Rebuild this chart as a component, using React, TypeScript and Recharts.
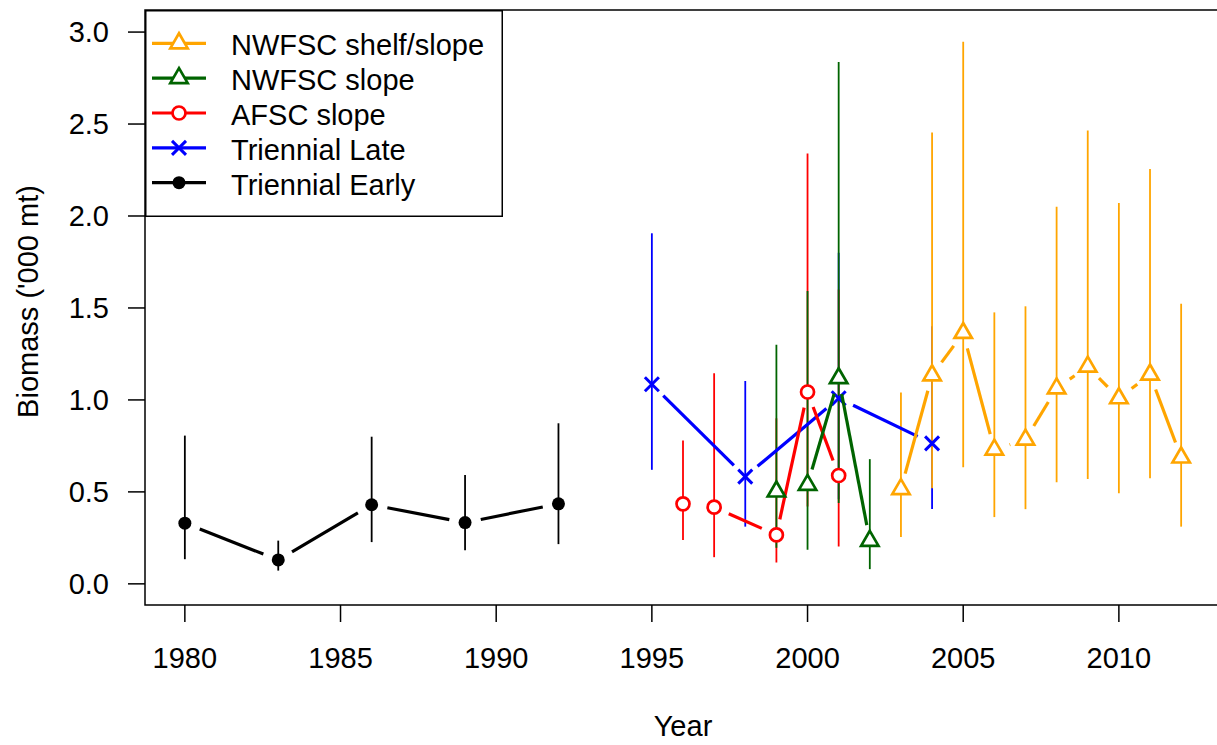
import { ComposedChart, Line, XAxis, YAxis, ErrorBar, ReferenceArea, Legend, Label } from 'recharts'

const earlyYears = [1980, 1983, 1986, 1989, 1992]
const earlyBiomass = [0.33, 0.13, 0.43, 0.333, 0.435]
const earlyLower = [0.134, 0.072, 0.227, 0.183, 0.216]
const earlyUpper = [0.806, 0.235, 0.8, 0.592, 0.873]

const lateYears = [1995, 1998, 2001, 2004]
const lateBiomass = [1.085, 0.583, 1.009, 0.764]
const lateLower = [0.62, 0.311, 0.46, 0.407]
const lateUpper = [1.906, 1.103, 1.8, 1.4]

const afscYears = [1996, 1997, 1999, 2000, 2001]
const afscBiomass = [0.435, 0.417, 0.266, 1.043, 0.589]
const afscLower = [0.239, 0.145, 0.116, 0.42, 0.203]
const afscUpper = [0.779, 1.145, 0.9, 2.34, 1.6]

const slopeYears = [1999, 2000, 2001, 2002]
const slopeBiomass = [0.502, 0.538, 1.118, 0.234]
const slopeLower = [0.196, 0.185, 0.44, 0.08]
const slopeUpper = [1.3, 1.592, 2.837, 0.678]

const shelfYears = [2003, 2004, 2005, 2006, 2007, 2008, 2009, 2010, 2011, 2012]
const shelfBiomass = [0.515, 1.134, 1.364, 0.73, 0.784, 1.063, 1.181, 1.009, 1.138, 0.687]
const shelfLower = [0.255, 0.52, 0.634, 0.363, 0.406, 0.552, 0.57, 0.492, 0.574, 0.311]
const shelfUpper = [1.04, 2.454, 2.948, 1.476, 1.509, 2.05, 2.465, 2.07, 2.256, 1.523]

const xTicks = [1980, 1985, 1990, 1995, 2000, 2005, 2010]
const yTicks = [0, 0.5, 1, 1.5, 2, 2.5, 3]
const xDomain = [1978.72, 2013.28]
const yDomain = [-0.115, 3.12]

const FONT = '"Liberation Sans", Arial, sans-serif'
const FS = 29
const GAP = 16

type Shape = 'dot' | 'cross' | 'circle' | 'triangle'

const build = (years: number[], vals: number[], lo: number[], hi: number[]) =>
  years.map((year, i) => ({ year, value: vals[i], err: [vals[i] - lo[i], hi[i] - vals[i]] }))

const series = [
  { name: 'Triennial Early', color: '#000000', shape: 'dot' as Shape, data: build(earlyYears, earlyBiomass, earlyLower, earlyUpper) },
  { name: 'Triennial Late', color: '#0000FF', shape: 'cross' as Shape, data: build(lateYears, lateBiomass, lateLower, lateUpper) },
  { name: 'AFSC slope', color: '#FF0000', shape: 'circle' as Shape, data: build(afscYears, afscBiomass, afscLower, afscUpper) },
  { name: 'NWFSC slope', color: '#006400', shape: 'triangle' as Shape, data: build(slopeYears, slopeBiomass, slopeLower, slopeUpper) },
  { name: 'NWFSC shelf/slope', color: '#FFA500', shape: 'triangle' as Shape, data: build(shelfYears, shelfBiomass, shelfLower, shelfUpper) },
]

function Marker({ shape, color, cx, cy }: { shape: Shape; color: string; cx: number; cy: number }) {
  if (shape === 'dot') return <circle cx={cx} cy={cy} r={6.5} fill={color} />
  if (shape === 'circle') return <circle cx={cx} cy={cy} r={6.5} fill="#fff" stroke={color} strokeWidth={2.7} />
  if (shape === 'cross')
    return (
      <g stroke={color} strokeWidth={3}>
        <line x1={cx - 7} y1={cy - 7} x2={cx + 7} y2={cy + 7} />
        <line x1={cx - 7} y1={cy + 7} x2={cx + 7} y2={cy - 7} />
      </g>
    )
  return (
    <polygon
      points={`${cx},${cy - 10} ${cx + 8.7},${cy + 5} ${cx - 8.7},${cy + 5}`}
      fill="#fff"
      stroke={color}
      strokeWidth={2.7}
    />
  )
}

// type="b" style: segment between points, with a gap round each point
function makeDot(shape: Shape, color: string) {
  return (props: any) => {
    const { cx, cy, index, points } = props
    const next = points && points[index + 1]
    let seg = null
    if (next && cx != null && cy != null) {
      const dx = next.x - cx
      const dy = next.y - cy
      const len = Math.hypot(dx, dy)
      if (len > 2 * GAP) {
        const ux = dx / len
        const uy = dy / len
        seg = (
          <line
            x1={cx + ux * GAP}
            y1={cy + uy * GAP}
            x2={next.x - ux * GAP}
            y2={next.y - uy * GAP}
            stroke={color}
            strokeWidth={3.2}
          />
        )
      }
    }
    return (
      <g key={`dot-${index}`}>
        {seg}
        <Marker shape={shape} color={color} cx={cx} cy={cy} />
      </g>
    )
  }
}

function LegendBox() {
  const rows = [...series].reverse()
  return (
    <svg width={358} height={207} style={{ display: 'block' }}>
      <rect x={0.75} y={0.75} width={356.5} height={205.5} fill="#fff" stroke="#000" strokeWidth={1.5} />
      {rows.map((s, i) => {
        const y = 33.3 + i * 34.85
        return (
          <g key={s.name}>
            <line x1={7} y1={y} x2={61} y2={y} stroke={s.color} strokeWidth={3.2} />
            <Marker shape={s.shape} color={s.color} cx={34} cy={y} />
            <text x={86} y={y + 11.8} fontSize={FS} fontFamily={FONT} fill="#000">
              {s.name}
            </text>
          </g>
        )
      })}
    </svg>
  )
}

export default function App() {
  return (
    <div style={{ position: 'absolute', left: 0, top: 0, width: 1217, height: 745, overflow: 'hidden', background: '#fff' }}>
      <ComposedChart width={1225} height={745} margin={{ top: 10, right: 4, left: 0, bottom: 0 }}>
        <XAxis
          type="number"
          dataKey="year"
          domain={xDomain}
          ticks={xTicks}
          allowDataOverflow
          height={140}
          axisLine={false}
          tickSize={17}
          tickMargin={25}
          tickLine={{ stroke: '#000', strokeWidth: 1.5 }}
          tick={{ fill: '#000', fontSize: FS, fontFamily: FONT }}
        >
          <Label
            content={(p: any) => {
              const vb = p.viewBox
              return (
                <text x={vb.x + vb.width / 2} y={vb.y + 121} textAnchor="middle" dominantBaseline="central" fontSize={FS} fontFamily={FONT} fill="#000">
                  Year
                </text>
              )
            }}
          />
        </XAxis>
        <YAxis
          type="number"
          domain={yDomain}
          ticks={yTicks}
          allowDataOverflow
          width={145}
          axisLine={false}
          tickSize={17}
          tickMargin={19}
          tickFormatter={(v: number) => v.toFixed(1)}
          tickLine={{ stroke: '#000', strokeWidth: 1.5 }}
          tick={{ fill: '#000', fontSize: FS, fontFamily: FONT }}
        >
          <Label
            content={(p: any) => {
              const vb = p.viewBox
              const x = vb.x + 28
              const y = vb.y + vb.height / 2 - 6
              return (
                <text x={x} y={y} transform={`rotate(-90 ${x} ${y})`} textAnchor="middle" dominantBaseline="central" fontSize={FS} fontFamily={FONT} fill="#000">
                  Biomass ('000 mt)
                </text>
              )
            }}
          />
        </YAxis>
        <ReferenceArea
          x1={xDomain[0]}
          x2={xDomain[1]}
          y1={yDomain[0]}
          y2={yDomain[1]}
          fill="none"
          stroke="#000"
          strokeWidth={1.5}
          fillOpacity={0}
          ifOverflow="visible"
        />
        {series.map((s) => (
          <Line
            key={s.name}
            name={s.name}
            data={s.data}
            dataKey="value"
            type="linear"
            stroke="none"
            dot={makeDot(s.shape, s.color)}
            activeDot={false}
            isAnimationActive={false}
          >
            <ErrorBar dataKey="err" direction="y" width={0} stroke={s.color} strokeWidth={1.8} isAnimationActive={false} />
          </Line>
        ))}
        <Legend
          layout="vertical"
          align="center"
          verticalAlign="middle"
          content={() => <LegendBox />}
          wrapperStyle={{ left: 145, top: 10, width: 358, height: 207 }}
        />
      </ComposedChart>
    </div>
  )
}
